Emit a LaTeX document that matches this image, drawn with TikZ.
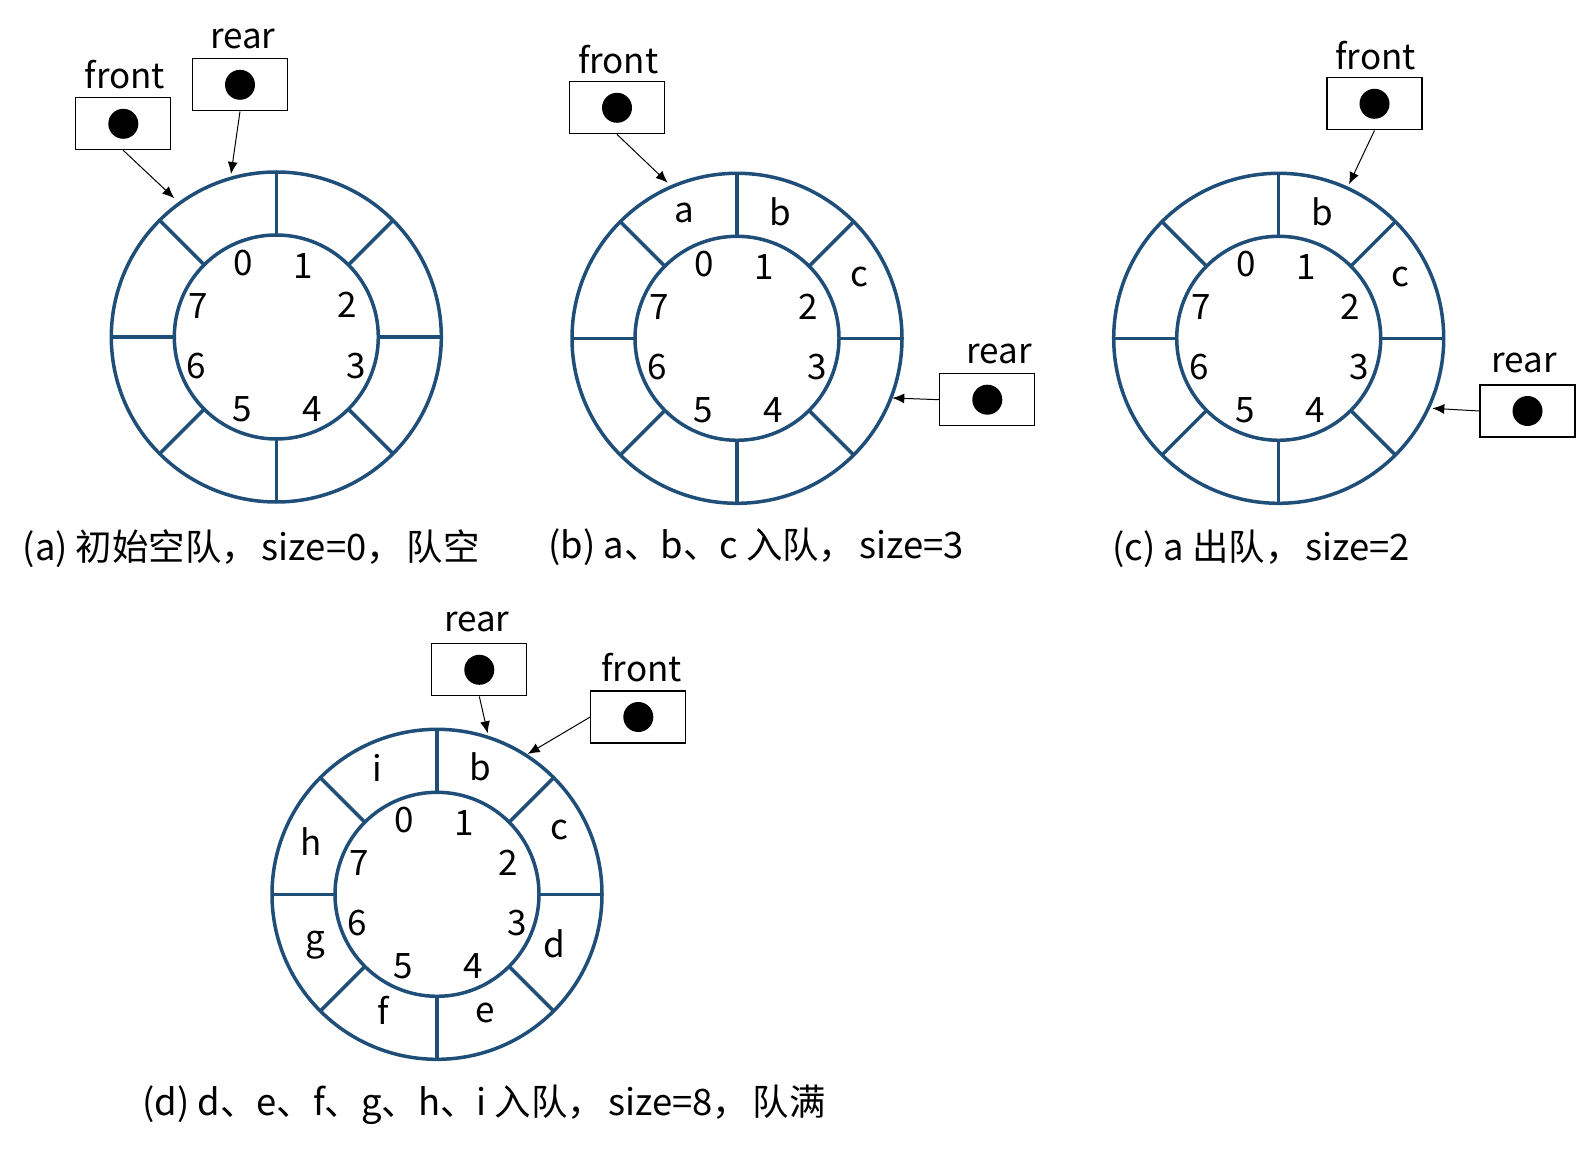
\documentclass[tikz,border=0pt]{standalone}
\usepackage{fontspec}
\setmainfont{Noto Sans CJK SC}
\usetikzlibrary{arrows.meta}
\definecolor{ringblue}{HTML}{1F4E79}
\tikzset{
  ringline/.style={draw=ringblue, line width=1.75pt},
  idx/.style={font=\fontsize{17.5}{20}\selectfont, inner sep=0pt},
  cell/.style={font=\fontsize{17.5}{20}\selectfont, inner sep=0pt},
  lbl/.style={font=\fontsize{17.5}{20}\selectfont, anchor=base, inner sep=0pt},
  ptrbox/.style={draw, line width=0.6pt, minimum width=47.5pt, minimum height=26pt, inner sep=0pt},
  ptr/.style={-{Latex[length=6pt,width=5pt]}, line width=0.5pt},
  captext/.style={font=\fontsize{18.2}{22}\selectfont, anchor=west, inner sep=0pt},
}
\newcommand\fwc{，\hspace{2pt}}
\newcommand\ringdraw[1]{%
  \draw[ringline] (0,0) circle[radius=165];
  \draw[ringline] (0,0) circle[radius=102];
  \foreach \a in {0,45,...,315} \draw[ringline] (\a:102) -- (\a:165);
  \foreach \i/\x/\y in {0/-33/74, 1/27/71, 2/71/32, 3/80/-29, 4/36/-72, 5/-34/-72, 6/-80/-29, 7/-78/31}
    \node[idx] (#1i\i) at (\x,\y) {\i};
}
\begin{document}
\begin{tikzpicture}[x=0.5pt, y=0.5pt]
\useasboundingbox (0,0) rectangle (1588,-1149);

% ---------- (a)
\begin{scope}[shift={(276.3,-337)}]
  \ringdraw{a}
\end{scope}
\node[ptrbox] (afront) at (123.3,-123.8) {};
\fill (afront.center) circle[radius=15];
\node[lbl] (afrontl) at (125,-89) {front};
\node[ptrbox] (arear) at (240,-84.8) {};
\fill (arear.center) circle[radius=15];
\node[lbl] (arearl) at (242.7,-48.3) {rear};
\coordinate (afrontt) at (174.3,-198.3);
\coordinate (areart) at (231,-174);
\draw[ptr] (afront.south) -- (afrontt);
\draw[ptr] (arear.south) -- (areart);
\node[captext] (capa) at (22.3,-549) {(a) 初始空队\fwc size=0\fwc 队空};

% ---------- (b)
\begin{scope}[shift={(737,-338.3)}]
  \ringdraw{b}
  \node[cell] (bca) at (-52.7,125.6) {a};
  \node[cell] (bcb) at (43.7,126.6) {b};
  \node[cell] (bcc) at (122.3,61.6) {c};
\end{scope}
\node[ptrbox] (bfront) at (617,-107.8) {};
\fill (bfront.center) circle[radius=15];
\node[lbl] (bfrontl) at (618.3,-73.3) {front};
\node[ptrbox] (brear) at (987.3,-399.7) {};
\fill (brear.center) circle[radius=15];
\node[lbl] (brearl) at (999.3,-363.3) {rear};
\coordinate (bfrontt) at (667.7,-182.7);
\coordinate (breart) at (892.3,-398);
\draw[ptr] (bfront.south) -- (bfrontt);
\draw[ptr] (brear.west) -- (breart);
\node[captext] (capb) at (548,-547) {(b) a、b、c 入队\fwc size=3};

% ---------- (c)
\begin{scope}[shift={(1278.7,-338.3)}]
  \ringdraw{c}
  \node[cell] (ccb) at (43.6,126.6) {b};
  \node[cell] (ccc) at (122,61.6) {c};
\end{scope}
\node[ptrbox] (cfront) at (1374.5,-103.8) {};
\fill (cfront.center) circle[radius=15];
\node[lbl] (cfrontl) at (1375.7,-69.3) {front};
\node[ptrbox] (crear) at (1527.5,-411) {};
\fill (crear.center) circle[radius=15];
\node[lbl] (crearl) at (1524.3,-372.3) {rear};
\coordinate (cfrontt) at (1349,-184.3);
\coordinate (creart) at (1432.3,-408.3);
\draw[ptr] (cfront.south) -- (cfrontt);
\draw[ptr] (crear.west) -- (creart);
\node[captext] (capc) at (1112,-549) {(c) a 出队\fwc size=2};

% ---------- (d)
\begin{scope}[shift={(437,-894.3)}]
  \ringdraw{d}
  \node[cell] (dci) at (-59.3,126) {i};
  \node[cell] (dcb) at (43.7,127.6) {b};
  \node[cell] (dcc) at (122.3,64.3) {c};
  \node[cell] (dcd) at (117.3,-49) {d};
  \node[cell] (dce) at (48,-119) {e};
  \node[cell] (dcf) at (-54.3,-115.7) {f};
  \node[cell] (dcg) at (-122,-50.7) {g};
  \node[cell] (dch) at (-126,52.6) {h};
\end{scope}
\node[ptrbox] (drear) at (479.3,-669.8) {};
\fill (drear.center) circle[radius=15];
\node[lbl] (drearl) at (476.7,-631.7) {rear};
\node[ptrbox] (dfront) at (638.3,-717) {};
\fill (dfront.center) circle[radius=15];
\node[lbl] (dfrontl) at (641.7,-681) {front};
\coordinate (dreart) at (487.7,-733.3);
\coordinate (dfrontt) at (527.7,-754);
\draw[ptr] (drear.south) -- (dreart);
\draw[ptr] (dfront.west) -- (dfrontt);
\node[captext] (capd) at (141.8,-1105) {(d) d、e、f、g、h、i 入队\fwc size=8\fwc 队满};
\end{tikzpicture}
\end{document}
